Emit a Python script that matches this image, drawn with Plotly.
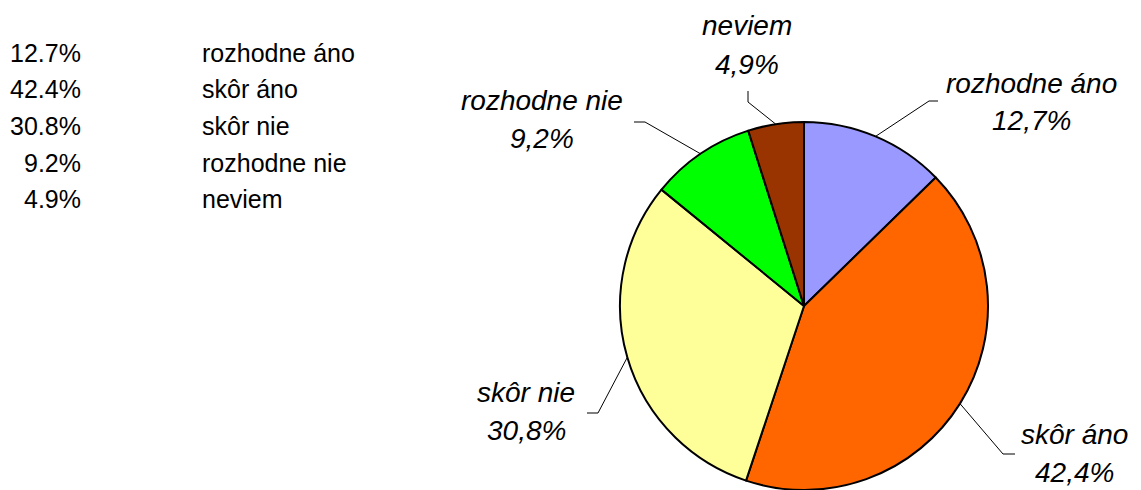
import math
import plotly.graph_objects as go

# ---- data ----
categories = ["rozhodne áno", "skôr áno", "skôr nie", "rozhodne nie", "neviem"]
values = [12.7, 42.4, 30.8, 9.2, 4.9]
colors = ["#9999FF", "#FF6600", "#FFFF99", "#00FF00", "#993300"]

W, H = 1141, 490

# pie geometry (px)
PIE_LEFT, PIE_RIGHT = 620, 988
PIE_R = (PIE_RIGHT - PIE_LEFT) / 2
PIE_CX = (PIE_LEFT + PIE_RIGHT) / 2
PIE_CY = H - PIE_R

# label placement (px): text centre, elbow, end of leader line
label_layout = {
    "rozhodne áno": dict(text=(1031, 83), elbow=(929, 101), end=(938, 101)),
    "skôr áno": dict(text=(1074, 434), elbow=(1003, 454), end=(1015, 454)),
    "skôr nie": dict(text=(526, 392), elbow=(598, 413), end=(587, 413)),
    "rozhodne nie": dict(text=(542, 100), elbow=(645, 122), end=(634, 122)),
    "neviem": dict(text=(747, 26), elbow=(748, 102), end=(748, 91)),
}
LINE_GAP = 38  # distance between name and value lines
LABEL_FONT = "Liberation Sans, Arial, sans-serif"


def px(x):
    return x / W


def py(y):
    return 1 - y / H


fig = go.Figure()
fig.add_trace(go.Pie(
    labels=categories,
    values=values,
    sort=False,
    direction="clockwise",
    rotation=0,
    textinfo="none",
    hoverinfo="label+percent",
    showlegend=False,
    marker=dict(colors=colors, line=dict(color="black", width=2)),
    domain=dict(x=[px(PIE_LEFT), px(PIE_RIGHT)], y=[0, (2 * PIE_R) / H]),
))

annotations = []
shapes = []

# pie labels + leader lines
total = sum(values)
cum = 0.0
for cat, v in zip(categories, values):
    mid = (cum + v / 2) / total * 2 * math.pi
    cum += v
    sx = PIE_CX + PIE_R * math.sin(mid)
    sy = PIE_CY - PIE_R * math.cos(mid)
    lay = label_layout[cat]
    ex, ey = lay["elbow"]
    fx, fy = lay["end"]
    shapes.append(dict(
        type="path", xref="paper", yref="paper",
        path=f"M {px(sx)},{py(sy)} L {px(ex)},{py(ey)} L {px(fx)},{py(fy)}",
        line=dict(color="black", width=1),
    ))
    tx, ty = lay["text"]
    pct = f"{v:.1f}%".replace(".", ",")
    for txt, yy in ((cat, ty), (pct, ty + LINE_GAP)):
        annotations.append(dict(
            x=px(tx), y=py(yy), xref="paper", yref="paper",
            text=f"<i>{txt}</i>", showarrow=False,
            xanchor="center", yanchor="middle",
            font=dict(family=LABEL_FONT, size=28, color="black"),
        ))

# left table
TABLE_TOP, TABLE_STEP = 53, 36.5
TABLE_FONT = dict(family="Liberation Sans Narrow, Arial Narrow, Liberation Sans, sans-serif",
                  size=25, color="black")
for i, (cat, v) in enumerate(zip(categories, values)):
    y = TABLE_TOP + i * TABLE_STEP
    annotations.append(dict(
        x=px(83), y=py(y), xref="paper", yref="paper",
        text=f"{v:.1f}%", showarrow=False, xanchor="right", yanchor="middle",
        font=TABLE_FONT,
    ))
    annotations.append(dict(
        x=px(200), y=py(y), xref="paper", yref="paper",
        text=cat, showarrow=False, xanchor="left", yanchor="middle",
        font=TABLE_FONT,
    ))

fig.update_layout(
    width=W, height=H,
    margin=dict(l=0, r=0, t=0, b=0),
    paper_bgcolor="white", plot_bgcolor="white",
    annotations=annotations, shapes=shapes,
)

fig.write_html("out.html",
               config={"displayModeBar": False},
               post_script="document.body.style.margin='0';document.body.style.overflow='hidden';")
